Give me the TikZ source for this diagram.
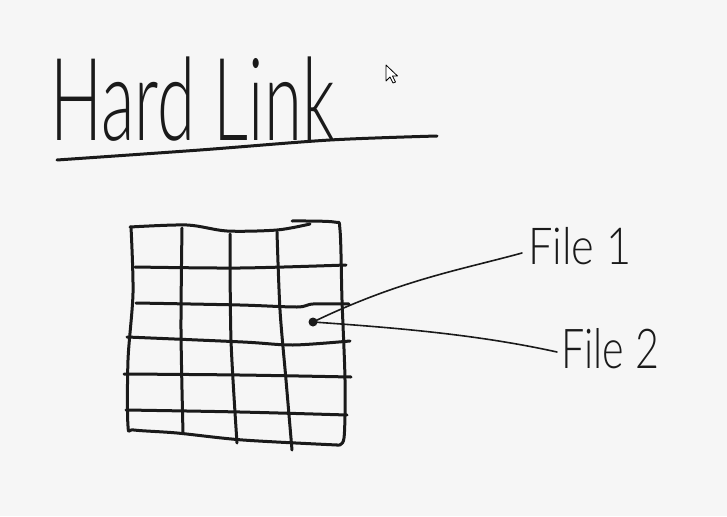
\documentclass[tikz,border=0pt]{standalone}
\usepackage{fontspec}
\setmainfont{Lato}[UprightFont=* Light]
\definecolor{bgc}{HTML}{F6F6F6}
\definecolor{inkc}{HTML}{1A1A1A}
\tikzset{
  ink/.style={draw=inkc, line width=3pt, line cap=round, line join=round},
  thinink/.style={draw=inkc, line width=1.6pt, line cap=round, line join=round},
  hand/.style={inner sep=0pt, text=inkc},
}
\begin{document}
\begin{tikzpicture}[x=1pt,y=-1pt]
\useasboundingbox (0,0) rectangle (727,516);
\fill[bgc] (0,0) rectangle (727,516);
% title
\node[hand, anchor=base west] (title) at (50,140)
  {\scalebox{0.6}[1]{\fontsize{115}{115}\selectfont Hard Link}};
\draw[ink] plot[smooth] coordinates {(57,160) (200,150) (330,140) (437,136)};
% cursor
\draw[fill=white, draw=black, line width=0.8pt, line join=round] (386,65) -- (386,81) -- (390,77) -- (393,83) -- (395.5,82) -- (392.5,76) -- (397.5,76) -- cycle;
% grid outer
\draw[ink] plot[smooth] coordinates {(130,227) (187,225) (227,231) (277,230) (310,224)};
\draw[ink] plot[smooth] coordinates {(292,221) (334,222) (340,230) (342,300) (345,380) (344,438) (337,445)};
\draw[ink] plot[smooth] coordinates {(131,227) (133,293) (128,360) (128,426) (134,430) (177,433) (243,440) (337,445)};
% verticals
\draw[ink] plot[smooth] coordinates {(182,228) (181,330) (183,433)};
\draw[ink] plot[smooth] coordinates {(230,234) (231,340) (237,443)};
\draw[ink] plot[smooth] coordinates {(277,232) (280,310) (286,380) (292,450)};
% horizontals
\draw[ink] plot[smooth] coordinates {(135,267) (240,268) (346,265)};
\draw[ink] plot[smooth] coordinates {(136,303) (240,305) (297,307) (313,304) (349,304)};
\draw[ink] plot[smooth] coordinates {(127,337) (243,342) (293,345) (350,341)};
\draw[ink] plot[smooth] coordinates {(124,374) (240,375) (351,377)};
\draw[ink] plot[smooth] coordinates {(126,410) (240,412) (347,415)};
% dot and links
\node[circle, fill=inkc, inner sep=0pt, minimum size=9pt] (dot) at (313,322) {};
\coordinate (e1) at (522,253);
\coordinate (e2) at (557,352);
\node[hand, anchor=base west] (f1) at (528,264)
  {\scalebox{0.85}[1]{\fontsize{51}{51}\selectfont File 1}};
\node[hand, anchor=base west] (f2) at (561,368)
  {\scalebox{0.75}[1]{\fontsize{55}{55}\selectfont File 2}};
\draw[thinink] (dot.center) .. controls (400,280) and (460,270) .. (e1);
\draw[thinink] (dot.center) .. controls (400,328) and (480,335) .. (e2);
\end{tikzpicture}
\end{document}
